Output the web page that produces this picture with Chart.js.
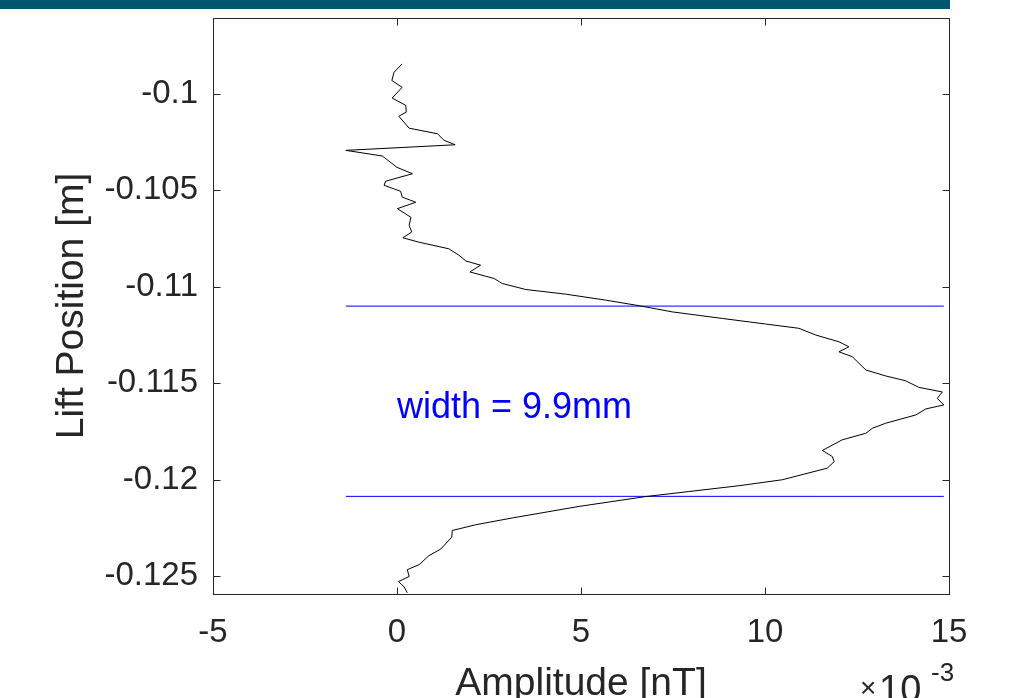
<!DOCTYPE html>
<html>
<head>
<meta charset="utf-8">
<title>Lift Position vs Amplitude</title>
<script src="https://cdn.jsdelivr.net/npm/chart.js@4.4.1/dist/chart.umd.min.js"></script>
<style>
  html, body { margin: 0; padding: 0; background: #fff; }
  #wrap { position: relative; width: 1014px; height: 698px; }
</style>
</head>
<body>
<div id="wrap"><canvas id="liftChart" width="1014" height="698"></canvas></div>
<script>
// Amplitude, in units of 1e-3 nT (axis shows x10^-3)
const amplitude = [
    0.14, -0.08, -0.14, 0.14, -0.13, 0.24, 0.25, 0.05, 0.33, 1.10,
    1.28, 1.58, -1.39, -0.40, 0.00, 0.42, -0.31, -0.35, 0.10, 0.14,
    0.51, 0.01, 0.38, 0.33, 0.40, 0.16, 0.60, 1.41, 1.68, 1.87,
    2.27, 1.98, 2.64, 2.86, 3.50, 4.58, 5.67, 6.58, 7.48, 8.84,
    10.02, 10.92, 11.38, 12.01, 12.28, 12.01, 12.37, 12.74, 13.28, 13.82,
    14.18, 14.82, 14.68, 14.86, 14.37, 14.10, 13.28, 12.92, 12.74, 12.10,
    11.56, 11.83, 11.88, 11.69, 10.47, 9.29, 7.93, 6.76, 4.95, 3.13,
    2.14, 1.50, 1.49, 1.19, 0.87, 0.60, 0.28, 0.33, 0.04, 0.19,
    0.28
];
// Lift position [m]
const liftPos = [
    -0.09845, -0.09888, -0.09931, -0.09966, -0.10022, -0.10060, -0.10095, -0.10116, -0.10178, -0.10207,
    -0.10241, -0.10264, -0.10293, -0.10322, -0.10381, -0.10414, -0.10453, -0.10474, -0.10505, -0.10535,
    -0.10562, -0.10595, -0.10640, -0.10681, -0.10716, -0.10746, -0.10769, -0.10803, -0.10836, -0.10866,
    -0.10888, -0.10923, -0.10957, -0.10983, -0.11014, -0.11038, -0.11069, -0.11098, -0.11130, -0.11164,
    -0.11193, -0.11215, -0.11250, -0.11285, -0.11311, -0.11337, -0.11362, -0.11431, -0.11462, -0.11487,
    -0.11521, -0.11545, -0.11578, -0.11612, -0.11633, -0.11664, -0.11707, -0.11733, -0.11759, -0.11793,
    -0.11848, -0.11880, -0.11906, -0.11940, -0.12000, -0.12031, -0.12061, -0.12087, -0.12138, -0.12198,
    -0.12233, -0.12263, -0.12297, -0.12359, -0.12393, -0.12440, -0.12466, -0.12501, -0.12528, -0.12554,
    -0.12586
];
// half-maximum crossings that give the width
const edgePos = [-0.11100, -0.12086];
const widthLabel = 'width = 9.9mm';
const labelPos = [0, -0.11628];

const xTicks = [-5, 0, 5, 10, 15];
const yTicks = [-0.125, -0.12, -0.115, -0.11, -0.105, -0.1];
const xRange = [-5, 15];
const yRange = [-0.12592, -0.09607];

const FONT = '"Liberation Sans", Arial, Helvetica, sans-serif';
const AXIS_COLOR = '#262626';

const profile = amplitude.map((a, i) => ({ x: a, y: liftPos[i] }));
const ampMin = Math.min(...amplitude);
const ampMax = Math.max(...amplitude);

// header strip, axis box with inward ticks, labels
const decorPlugin = {
    id: 'decor',
    beforeDraw(chart) {
        const ctx = chart.ctx;
        ctx.save();
        ctx.fillStyle = '#00566f';
        ctx.fillRect(0, 0, 950, 9);
        ctx.restore();
    },
    afterDraw(chart) {
        const { ctx, chartArea: a, scales } = chart;
        const xs = scales.x, ys = scales.y;
        const L = Math.round(a.left) + 0.5, R = Math.round(a.right) + 0.5;
        const T = Math.round(a.top) + 0.5, B = Math.round(a.bottom) + 0.5;
        ctx.save();
        ctx.strokeStyle = AXIS_COLOR;
        ctx.lineWidth = 1;
        ctx.strokeRect(L, T, R - L, B - T);
        const tl = 7;
        ctx.beginPath();
        xTicks.forEach(v => {
            const px = Math.round(xs.getPixelForValue(v)) + 0.5;
            ctx.moveTo(px, B); ctx.lineTo(px, B - tl);
            ctx.moveTo(px, T); ctx.lineTo(px, T + tl);
        });
        yTicks.forEach(v => {
            const py = Math.round(ys.getPixelForValue(v)) + 0.5;
            ctx.moveTo(L, py); ctx.lineTo(L + tl, py);
            ctx.moveTo(R, py); ctx.lineTo(R - tl, py);
        });
        ctx.stroke();

        // annotation
        ctx.fillStyle = '#0000ff';
        ctx.font = '36px ' + FONT;
        ctx.textAlign = 'left';
        ctx.textBaseline = 'middle';
        ctx.fillText(widthLabel, xs.getPixelForValue(labelPos[0]), ys.getPixelForValue(labelPos[1]));

        // axis titles
        ctx.fillStyle = AXIS_COLOR;
        ctx.font = '39px ' + FONT;
        ctx.textAlign = 'center';
        ctx.textBaseline = 'middle';
        ctx.fillText('Amplitude [nT]', (a.left + a.right) / 2, 684);
        ctx.save();
        ctx.translate(72, (a.top + a.bottom) / 2);
        ctx.rotate(-Math.PI / 2);
        ctx.fillText('Lift Position [m]', 0, 0);
        ctx.restore();

        // exponent label
        ctx.textAlign = 'left';
        ctx.textBaseline = 'alphabetic';
        ctx.font = '28px ' + FONT;
        ctx.fillText('\u00d7', 860, 697);
        ctx.font = '38px ' + FONT;
        ctx.fillText('10', 879, 702);
        ctx.font = '26px ' + FONT;
        ctx.fillText('-3', 931, 681);
        ctx.restore();
    }
};

new Chart(document.getElementById('liftChart'), {
    type: 'scatter',
    data: {
        datasets: [
            {
                label: 'profile',
                data: profile,
                showLine: true,
                borderColor: '#000000',
                borderWidth: 1,
                pointRadius: 0,
                tension: 0
            },
            {
                label: 'upper edge',
                data: [{ x: ampMin, y: edgePos[0] }, { x: ampMax, y: edgePos[0] }],
                showLine: true,
                borderColor: '#0000ff',
                borderWidth: 1,
                pointRadius: 0
            },
            {
                label: 'lower edge',
                data: [{ x: ampMin, y: edgePos[1] }, { x: ampMax, y: edgePos[1] }],
                showLine: true,
                borderColor: '#0000ff',
                borderWidth: 1,
                pointRadius: 0
            }
        ]
    },
    options: {
        responsive: false,
        animation: false,
        devicePixelRatio: 1,
        layout: { padding: { top: 18, right: 65, left: 0, bottom: 0 } },
        plugins: {
            legend: { display: false },
            tooltip: { enabled: false }
        },
        scales: {
            x: {
                type: 'linear',
                min: xRange[0],
                max: xRange[1],
                afterBuildTicks: s => { s.ticks = xTicks.map(v => ({ value: v })); },
                afterFit: s => { s.height = 104; s.paddingLeft = 0; s.paddingRight = 0; },
                grid: { display: false, drawTicks: false },
                border: { display: false },
                ticks: {
                    color: AXIS_COLOR,
                    font: { family: FONT, size: 33 },
                    padding: 19,
                    maxRotation: 0
                }
            },
            y: {
                type: 'linear',
                min: yRange[0],
                max: yRange[1],
                afterBuildTicks: s => { s.ticks = yTicks.map(v => ({ value: v })); },
                afterFit: s => { s.width = 213; s.paddingTop = 0; s.paddingBottom = 0; },
                grid: { display: false, drawTicks: false },
                border: { display: false },
                ticks: {
                    color: AXIS_COLOR,
                    font: { family: FONT, size: 33 },
                    padding: 15,
                    callback: v => String(v)
                }
            }
        }
    },
    plugins: [decorPlugin]
});
</script>
</body>
</html>
